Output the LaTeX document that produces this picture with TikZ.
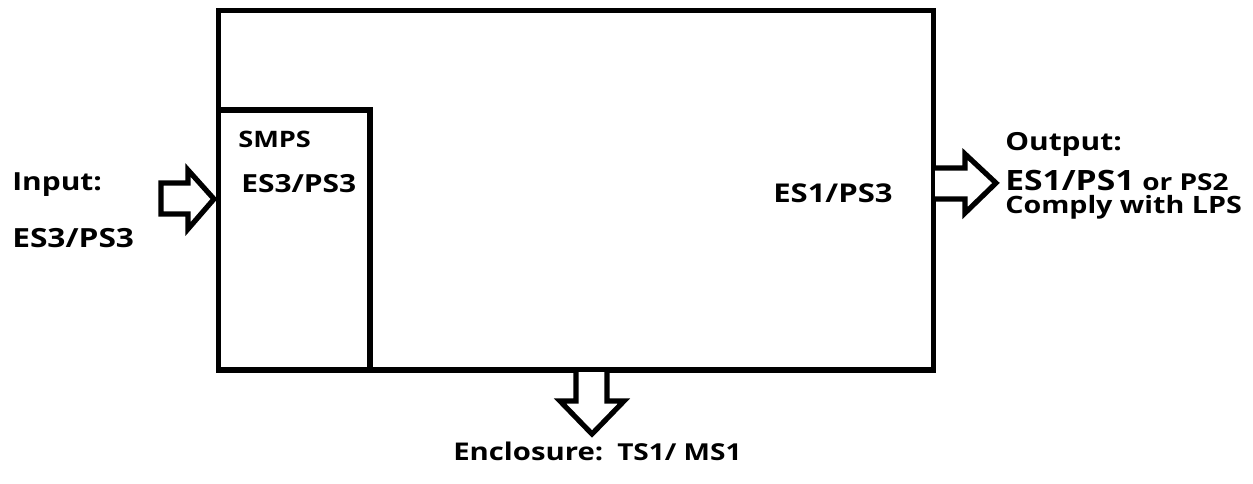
\documentclass[tikz,border=0pt]{standalone}
\usepackage{fontspec}
\setmainfont{Open Sans}[FakeStretch=1.2]
\begin{document}
\begin{tikzpicture}[x=0.75pt,y=-0.75pt,
  box/.style={draw=black,line width=4.1pt,inner sep=0pt,outer sep=0pt,fill=none},
  blockarrow/.style={draw=black,line width=3.9pt,fill=white,line join=miter},
  lbl/.style={anchor=base west,inner sep=0pt},
  txt/.style={lbl,font=\bfseries\fontsize{#1}{#1}\selectfont}]
\useasboundingbox[fill=white] (0,0) rectangle (1253,483);
% boxes
\node[box,minimum width=715*0.75pt,minimum height=359.5*0.75pt] (outer) at (576,190.25) {};
\node[box,minimum width=151.5*0.75pt,minimum height=259.5*0.75pt] (smps) at (294.25,239.75) {};
% input arrow
\draw[blockarrow] (161,183) -- (188,183) -- (188,170) -- (214,199) -- (188,229) -- (188,214) -- (161,214) -- cycle;
% output arrow
\draw[blockarrow] (935,168) -- (965,168) -- (965,154) -- (996,183) -- (965,213) -- (965,199) -- (935,199);
% down arrow
\draw[blockarrow] (576,372) -- (576,401) -- (560,401) -- (592,434) -- (624,401) -- (607,401) -- (607,372);
% texts
\node[txt=18.7] (inlbl) at (12,190) {Input:};
\node[txt=19.8] (inval) at (12,247) {ES3/PS3};
\node[txt=17] (smpsl) at (238,147) {SMPS};
\node[txt=18.7] (smpsv) at (241,192) {ES3/PS3};
\node[txt=19.4] (mainv) at (773,202) {ES1/PS3};
\node[txt=18.7] (outl) at (1005,150) {Output:};
\node[txt=21] (outv) at (1005,190) {ES1/PS1};
\node[txt=17.5] (outor) at (1142,190) {or PS2};
\node[txt=17.9] (lps) at (1005,213) {Comply with LPS};
\node[txt=18.3] (encl) at (453,460) {Enclosure:};
\node[txt=17.5] (encv) at (617,460) {TS1/ MS1};
\end{tikzpicture}
\end{document}
